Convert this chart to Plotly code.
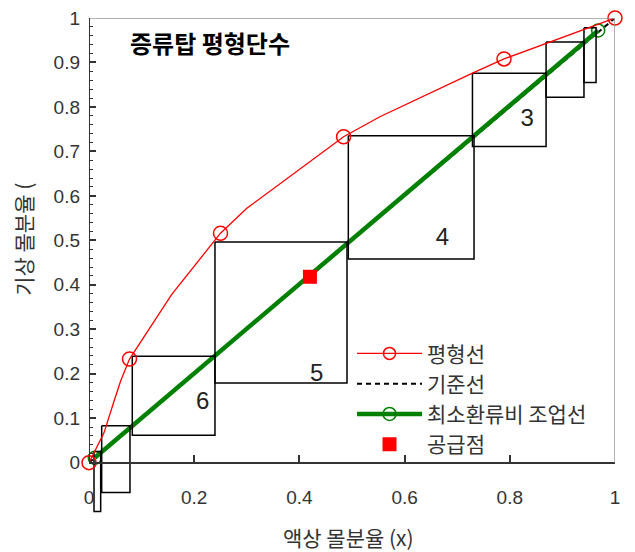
import plotly.graph_objects as go

# ---- data ----
eq_x = [0.0, 0.0095, 0.0285, 0.0475, 0.060, 0.077, 0.157, 0.250, 0.300, 0.484, 0.553, 0.729, 0.789, 1.0]
eq_y = [0.0, 0.022, 0.067, 0.138, 0.183, 0.233, 0.378, 0.516, 0.572, 0.733, 0.778, 0.876, 0.908, 1.0]
eq_mark_x = [0.0, 0.077, 0.250, 0.484, 0.789, 1.0]
eq_mark_y = [0.0, 0.233, 0.516, 0.733, 0.908, 1.0]

ref_x = [0.0, 1.0]
ref_y = [0.0, 1.0]

op_x = [0.011, 0.968]
op_y = [0.011, 0.972]

feed_x = [0.42]
feed_y = [0.418]

# stage boxes: left, right, bottom, top
box_left = [0.0095, 0.0241, 0.0823, 0.2395, 0.493, 0.729, 0.869, 0.941]
box_right = [0.0222, 0.0779, 0.2395, 0.4905, 0.732, 0.869, 0.941, 0.964]
box_bottom = [-0.110, -0.067, 0.0614, 0.179, 0.458, 0.711, 0.822, 0.855]
box_top = [0.025, 0.083, 0.239, 0.496, 0.735, 0.876, 0.946, 0.978]

stage_labels = ["6", "5", "4", "3"]
stage_label_x = [0.216, 0.433, 0.672, 0.833]
stage_label_y = [0.134, 0.198, 0.502, 0.771]

x_ticks = [0, 0.2, 0.4, 0.6, 0.8, 1]
x_tick_text = ["0", "0.2", "0.4", "0.6", "0.8", "1"]
y_ticks = [round(i * 0.1, 1) for i in range(11)]
y_tick_text = ["0", "0.1", "0.2", "0.3", "0.4", "0.5", "0.6", "0.7", "0.8", "0.9", "1"]
y_minor = [round(i * 0.02, 2) for i in range(51)]

title_text = "증류탑 평형단수"
x_title = "액상 몰분율 (x)"
y_title = "기상 몰분율 ("

FONT = "Noto Sans CJK KR, Liberation Sans, sans-serif"
NUMFONT = "Liberation Sans, Arial, sans-serif"
YMIN = -0.12

fig = go.Figure()

# reference (diagonal) line
fig.add_trace(go.Scatter(x=ref_x, y=ref_y, mode="lines", name="기준선",
                         line=dict(color="black", width=2, dash="5px,4px"),
                         legendrank=2))

# operating line
fig.add_trace(go.Scatter(x=op_x, y=op_y, mode="lines+markers", name="최소환류비 조업선",
                         line=dict(color="#008000", width=4.5),
                         marker=dict(symbol="circle-open", size=13, color="#008000", line=dict(width=1.5)),
                         cliponaxis=False, legendrank=3))

# stage boxes
bx, by = [], []
for l, r, b, t in zip(box_left, box_right, box_bottom, box_top):
    bx += [l, r, r, l, l, None]
    by += [t, t, b, b, t, None]
fig.add_trace(go.Scatter(x=bx, y=by, mode="lines", line=dict(color="black", width=1.5),
                         showlegend=False, hoverinfo="skip"))

# equilibrium curve
fig.add_trace(go.Scatter(x=eq_x, y=eq_y, mode="lines", line=dict(color="#ff0000", width=1.3),
                         showlegend=False))
fig.add_trace(go.Scatter(x=eq_mark_x, y=eq_mark_y, mode="markers",
                         marker=dict(symbol="circle-open", size=14, color="#ff0000", line=dict(width=1.5)),
                         cliponaxis=False, showlegend=False))
fig.add_trace(go.Scatter(x=[None], y=[None], mode="lines+markers", name="평형선",
                         line=dict(color="#ff0000", width=1.3),
                         marker=dict(symbol="circle-open", size=12, color="#ff0000", line=dict(width=1.5)),
                         legendrank=1))

# feed point
fig.add_trace(go.Scatter(x=feed_x, y=feed_y, mode="markers", name="공급점",
                         marker=dict(symbol="square", size=14, color="#ff0000"),
                         legendrank=4))

# stage labels
fig.add_trace(go.Scatter(x=stage_label_x, y=stage_label_y, mode="text", text=stage_labels,
                         textfont=dict(family=NUMFONT, size=24, color="#222"),
                         showlegend=False, hoverinfo="skip"))

# frame: top and right borders (gray), left axis line
fig.add_shape(type="line", xref="x", yref="y", x0=0, x1=1, y0=1, y1=1,
              line=dict(color="#999999", width=1.5))
fig.add_shape(type="line", xref="x", yref="y", x0=1, x1=1, y0=0, y1=1,
              line=dict(color="#999999", width=1.5))
fig.add_shape(type="line", xref="x", yref="y", x0=0, x1=0, y0=0, y1=1,
              line=dict(color="#333333", width=2))

fig.add_annotation(text="<b>" + title_text + "</b>", xref="paper", yref="paper",
                   x=0.074, y=0.95, xanchor="left", yanchor="middle", showarrow=False,
                   font=dict(family=FONT, size=24, color="black"))
fig.add_annotation(text=x_title, xref="paper", yref="paper", x=0.4924, y=-0.043,
                   xanchor="center", yanchor="middle", showarrow=False,
                   font=dict(family=FONT, size=21, color="#333"))
fig.add_annotation(text=y_title, xref="paper", yref="paper", x=-0.127, y=0.555,
                   xanchor="center", yanchor="middle", showarrow=False, textangle=-90,
                   font=dict(family=FONT, size=21, color="#333"))

fig.update_layout(
    width=627, height=544,
    margin=dict(l=81, r=20, t=10, b=36, autoexpand=False),
    paper_bgcolor="white", plot_bgcolor="white",
    font=dict(family=FONT, color="#333"),
    xaxis=dict(range=[0, 1], anchor="free", position=(0 - YMIN) / (1 - YMIN), automargin=False,
               showline=True, linecolor="#333", linewidth=1.5,
               ticks="inside", ticklen=7, tickcolor="#333", tickwidth=1.5,
               tickvals=x_ticks, ticktext=x_tick_text, ticklabelstandoff=18,
               ticklabeloverflow="allow",
               tickfont=dict(family=NUMFONT, size=19, color="#333"),
               showgrid=False, zeroline=False),
    yaxis=dict(range=[YMIN, 1], showline=False, automargin=False,
               ticks="inside", ticklen=7, tickcolor="#333", tickwidth=1.5,
               tickvals=y_ticks, ticktext=y_tick_text, ticklabelstandoff=8,
               ticklabeloverflow="allow",
               tickfont=dict(family=NUMFONT, size=19, color="#333"),
               minor=dict(tickmode="array", tickvals=y_minor, ticks="inside", ticklen=4,
                          tickcolor="#333", tickwidth=1),
               showgrid=False, zeroline=False),
    legend=dict(x=0.5, y=0.367, xanchor="left", yanchor="top",
                bgcolor="rgba(0,0,0,0)", traceorder="normal",
                font=dict(family=FONT, size=21, color="#333"), itemwidth=65),
    showlegend=True,
)

fig.write_html("out.html")
